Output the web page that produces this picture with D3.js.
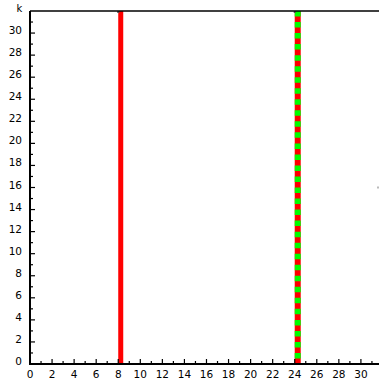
<!DOCTYPE html>
<html><head><meta charset="utf-8">
<script src="https://cdn.jsdelivr.net/npm/d3@7"></script>
<style>html,body{margin:0;padding:0;background:#fff;}svg{display:block;}</style>
</head><body>
<svg id="c" width="379" height="383"></svg>
<script>
const xTicks = d3.range(0, 32, 1);
const yTicks = d3.range(0, 32, 1);
const lineX = [8, 24];
const lineStyle = ["solid", "dashed"];
const lineColors = ["#ff0000", "#00ff00"];
const yLabel = "k";

const W = 379, H = 383;
const x = d3.scaleLinear().domain([0, 31.64]).range([30, 379]);
const y = d3.scaleLinear().domain([0, 32]).range([364, 11]);
const svg = d3.select("#c");
const font = "DejaVu Sans, Verdana, sans-serif";

// lines
lineX.forEach((v, i) => {
  const w = lineStyle[i] === "solid" ? 5 : 6;
  svg.append("rect").attr("x", x(v)).attr("y", y(32)).attr("width", w)
    .attr("height", y(0) - y(32)).attr("fill", "#ff0000");
  if (lineStyle[i] === "dashed") {
    const seg = y(0) - y(0.5);
    svg.append("line").attr("x1", x(v) + w / 2).attr("x2", x(v) + w / 2)
      .attr("y1", y(32)).attr("y2", y(0))
      .attr("stroke", lineColors[i]).attr("stroke-width", w)
      .attr("stroke-dasharray", seg + " " + seg);
  }
  svg.append("rect").attr("x", x(v) - 1).attr("y", y(32)).attr("width", 2).attr("height", 2).attr("fill", "#555");
});

// axes lines
svg.append("line").attr("x1", x(0)).attr("x2", W).attr("y1", y(32)).attr("y2", y(32)).attr("stroke", "#000").attr("stroke-width", 1.5);
svg.append("line").attr("x1", x(0)).attr("x2", x(0)).attr("y1", y(32)).attr("y2", y(0) + 1).attr("stroke", "#000").attr("stroke-width", 2);
svg.append("line").attr("x1", x(0)).attr("x2", W).attr("y1", y(0)).attr("y2", y(0)).attr("stroke", "#000").attr("stroke-width", 2);

// x ticks
xTicks.forEach(t => {
  const major = t % 2 === 0;
  if (t > 0) svg.append("line").attr("x1", x(t)).attr("x2", x(t)).attr("y1", y(0)).attr("y2", y(0) - (major ? 5 : 3)).attr("stroke", "#000").attr("stroke-width", 1.2);
  if (major) svg.append("text").attr("x", x(t)).attr("y", y(0) + 13.5).attr("text-anchor", "middle")
    .attr("font-family", font).attr("font-size", 10.5).attr("fill", "#000").text(t);
});
// y ticks
yTicks.forEach(t => {
  const major = t % 2 === 0;
  if (t > 0) svg.append("line").attr("x1", x(0)).attr("x2", x(0) + (major ? 5 : 3)).attr("y1", y(t)).attr("y2", y(t)).attr("stroke", "#000").attr("stroke-width", 1.2);
  if (major) svg.append("text").attr("x", 22).attr("y", y(t) + 1).attr("text-anchor", "end")
    .attr("font-family", font).attr("font-size", 10.5).attr("fill", "#000").text(t);
});
svg.append("text").attr("x", 19.5).attr("y", 11.5).attr("text-anchor", "middle")
  .attr("font-family", font).attr("font-size", 10).attr("fill", "#000").text(yLabel);
svg.append("rect").attr("x", 377.5).attr("y", 186.5).attr("width", 1).attr("height", 2).attr("fill", "#777");
</script>
</body></html>
